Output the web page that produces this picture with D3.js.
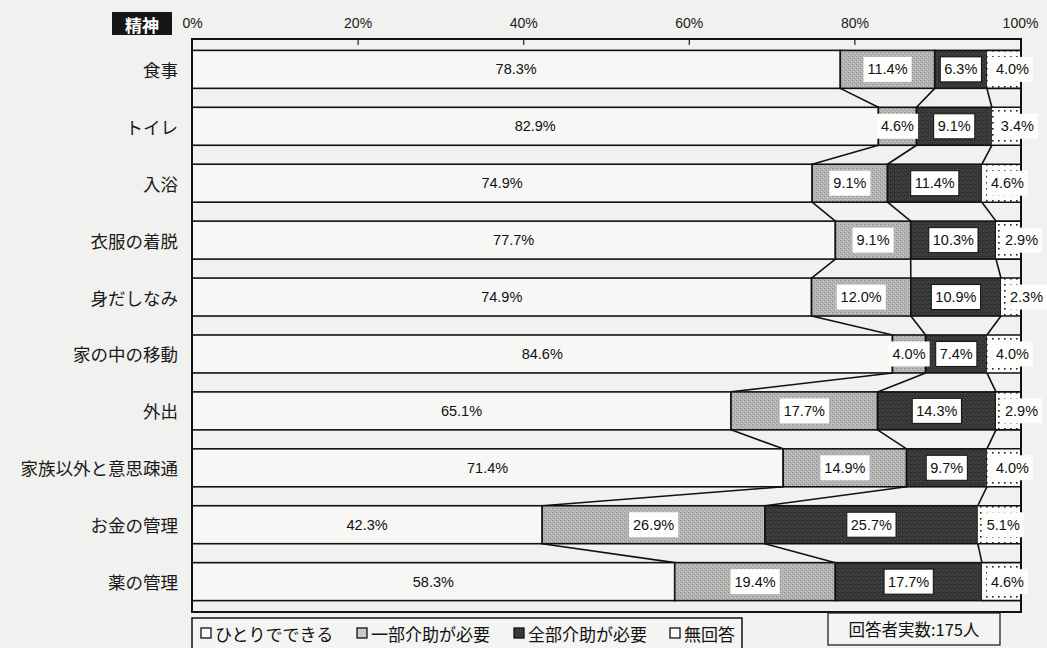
<!DOCTYPE html>
<html>
<head>
<meta charset="utf-8">
<script src="https://cdn.jsdelivr.net/npm/d3@7"></script>
<style>
  html, body { margin: 0; padding: 0; background: #f1f1ef; }
  svg { display: block; }
</style>
</head>
<body>
<svg id="chart" width="1047" height="648"></svg>
<script>
// Activities of daily living (mental disability respondents), share of answers in %
const categories = ["食事", "トイレ", "入浴", "衣服の着脱", "身だしなみ", "家の中の移動", "外出", "家族以外と意思疎通", "お金の管理", "薬の管理"];
const selfCare    = [78.3, 82.9, 74.9, 77.7, 74.9, 84.6, 65.1, 71.4, 42.3, 58.3];
const partialHelp = [11.4, 4.6, 9.1, 9.1, 12.0, 4.0, 17.7, 14.9, 26.9, 19.4];
const fullHelp    = [6.3, 9.1, 11.4, 10.3, 10.9, 7.4, 14.3, 9.7, 25.7, 17.7];
const noAnswer    = [4.0, 3.4, 4.6, 2.9, 2.3, 4.0, 2.9, 4.0, 5.1, 4.6];
const seriesKeys  = ["selfCare", "partialHelp", "fullHelp", "noAnswer"];
const seriesNames = ["ひとりでできる", "一部介助が必要", "全部介助が必要", "無回答"];
const tickValues  = [0, 20, 40, 60, 80, 100];
const tickLabels  = ["0%", "20%", "40%", "60%", "80%", "100%"];
const panelTitle  = "精神";
const respondents = "回答者実数:175人";

const rows = categories.map((c, i) => ({
  category: c,
  selfCare: selfCare[i],
  partialHelp: partialHelp[i],
  fullHelp: fullHelp[i],
  noAnswer: noAnswer[i]
}));

const svg = d3.select("#chart");
const JP = "'Noto Sans CJK JP', 'Noto Sans', sans-serif";
const NUM = "'Liberation Sans Narrow', 'Liberation Sans', Arial, sans-serif";

const plot = { left: 192, right: 1020, top: 39, bottom: 612 };

const x = d3.scaleLinear().domain([0, 1]).range([plot.left, plot.right]);
const xPct = d3.scaleLinear().domain([0, 100]).range([plot.left, plot.right]);
const y = d3.scaleBand().domain(categories).range([plot.top, plot.bottom])
  .paddingInner(0.333).paddingOuter(0.2);

const stacked = d3.stack().keys(seriesKeys).offset(d3.stackOffsetExpand)(rows);

// ---- patterns for the segment fills
const defs = svg.append("defs");
const gray = defs.append("pattern").attr("id", "grayFill")
  .attr("width", 4).attr("height", 4).attr("patternUnits", "userSpaceOnUse");
gray.append("rect").attr("width", 4).attr("height", 4).attr("fill", "#b3b3b1");
gray.append("rect").attr("x", 0).attr("y", 0).attr("width", 1).attr("height", 1).attr("fill", "#8e8e8c");
gray.append("rect").attr("x", 2).attr("y", 2).attr("width", 1).attr("height", 1).attr("fill", "#999997");
gray.append("rect").attr("x", 3).attr("y", 1).attr("width", 1).attr("height", 1).attr("fill", "#cfcfcd");
gray.append("rect").attr("x", 1).attr("y", 3).attr("width", 1).attr("height", 1).attr("fill", "#c6c6c4");

const dark = defs.append("pattern").attr("id", "darkFill")
  .attr("width", 4).attr("height", 4).attr("patternUnits", "userSpaceOnUse");
dark.append("rect").attr("width", 4).attr("height", 4).attr("fill", "#363636");
dark.append("rect").attr("x", 1).attr("y", 1).attr("width", 1).attr("height", 1).attr("fill", "#5a5a5a");
dark.append("rect").attr("x", 3).attr("y", 3).attr("width", 1).attr("height", 1).attr("fill", "#4a4a4a");
dark.append("rect").attr("x", 2).attr("y", 0).attr("width", 1).attr("height", 1).attr("fill", "#222");

const dots = defs.append("pattern").attr("id", "dotFill")
  .attr("width", 6).attr("height", 6).attr("patternUnits", "userSpaceOnUse");
dots.append("rect").attr("width", 6).attr("height", 6).attr("fill", "#fbfbf9");
dots.append("rect").attr("x", 2).attr("y", 2).attr("width", 1.6).attr("height", 1.6).attr("fill", "#222");

const fills = ["#f7f7f5", "url(#grayFill)", "url(#darkFill)", "url(#dotFill)"];

// ---- panel title
svg.append("rect").attr("x", 112).attr("y", 12).attr("width", 60).attr("height", 23).attr("fill", "#161616");
svg.append("text").attr("x", 142).attr("y", 24).attr("text-anchor", "middle")
  .attr("dominant-baseline", "central").attr("fill", "#fff")
  .attr("font-family", JP).attr("font-weight", "bold").attr("font-size", 17)
  .text(panelTitle);

// ---- percentage axis labels on top
const axisTop = svg.append("g").attr("transform", `translate(0,${plot.top - 11})`)
  .call(d3.axisTop(xPct).tickValues(tickValues).tickFormat((d, i) => tickLabels[i]).tickSize(0).tickPadding(0));
axisTop.select(".domain").remove();
axisTop.selectAll("text").attr("font-family", NUM).attr("font-size", 14).attr("fill", "#1a1a1a");

// ---- connectors between adjacent bars at each cumulative boundary
const conn = svg.append("g").attr("stroke", "#111").attr("stroke-width", 1.6).attr("fill", "none");
for (let k = 0; k < 3; k++) {
  const s = stacked[k];
  for (let i = 0; i < categories.length - 1; i++) {
    conn.append("line")
      .attr("x1", x(s[i][1])).attr("y1", y(categories[i]) + y.bandwidth())
      .attr("x2", x(s[i + 1][1])).attr("y2", y(categories[i + 1]));
  }
}

// ---- stacked bars
const bars = svg.append("g");
stacked.forEach((s, k) => {
  bars.selectAll(null).data(s).enter().append("rect")
    .attr("x", d => x(d[0]))
    .attr("y", d => y(d.data.category))
    .attr("width", d => x(d[1]) - x(d[0]))
    .attr("height", y.bandwidth())
    .attr("fill", fills[k])
    .attr("stroke", "#111")
    .attr("stroke-width", k === 3 ? 0 : 1.6);
});
// outline of the no-answer segments (top & bottom edges only, dotted look comes from fill)
bars.selectAll(null).data(stacked[3]).enter().append("path")
  .attr("d", d => {
    const x0 = x(d[0]), x1 = x(d[1]), y0 = y(d.data.category), y1 = y0 + y.bandwidth();
    return `M${x0},${y0}H${x1}M${x0},${y1}H${x1}`;
  })
  .attr("stroke", "#111").attr("stroke-width", 1.6).attr("fill", "none");

// ---- frame
svg.append("rect").attr("x", plot.left).attr("y", plot.top)
  .attr("width", plot.right - plot.left + 1).attr("height", plot.bottom - plot.top)
  .attr("fill", "none").attr("stroke", "#111").attr("stroke-width", 2);

// small inner tick marks along the top edge
const tickMarks = svg.append("g").attr("transform", `translate(0,${plot.top})`)
  .call(d3.axisBottom(xPct).tickValues(tickValues.slice(1, -1)).tickSize(6).tickFormat(""));
tickMarks.select(".domain").remove();
tickMarks.selectAll("line").attr("stroke", "#222").attr("stroke-width", 1.2);

// ---- category labels
svg.append("g").selectAll("text").data(categories).enter().append("text")
  .attr("x", 178).attr("y", d => y(d) + y.bandwidth() / 2)
  .attr("text-anchor", "end").attr("dominant-baseline", "central")
  .attr("font-family", JP).attr("font-size", 17.5).attr("fill", "#1a1a1a")
  .text(d => d);

// ---- value labels
const valueArrays = [selfCare, partialHelp, fullHelp, noAnswer];
const labels = svg.append("g").attr("font-family", NUM).attr("font-size", 14.5).attr("fill", "#111");

stacked.forEach((s, k) => {
  s.forEach((d, i) => {
    const txt = valueArrays[k][i].toFixed(1) + "%";
    const cy = y(d.data.category) + y.bandwidth() / 2;
    const x0 = x(d[0]), x1 = x(d[1]);
    if (k === 0) {
      labels.append("text").attr("x", (x0 + x1) / 2).attr("y", cy)
        .attr("text-anchor", "middle").attr("dominant-baseline", "central").text(txt);
      return;
    }
    const t = labels.append("text").attr("y", cy).attr("dominant-baseline", "central").text(txt);
    if (k === 3) {
      t.attr("x", x0 + 9).attr("text-anchor", "start");
    } else {
      t.attr("x", (x0 + x1) / 2).attr("text-anchor", "middle");
    }
    const bb = t.node().getBBox();
    labels.insert("rect", () => t.node())
      .attr("x", bb.x - 4).attr("y", cy - 12.5)
      .attr("width", bb.width + 8).attr("height", 25)
      .attr("fill", "#fdfdfc")
      .attr("stroke", k === 2 ? "#111" : "none").attr("stroke-width", 1);
  });
});

// ---- legend
svg.append("rect").attr("x", 192).attr("y", 618).attr("width", 550).attr("height", 40)
  .attr("fill", "#f4f4f2").attr("stroke", "#111").attr("stroke-width", 1.5);
const legendX = [201, 357, 514, 670];
const legendSwatch = ["#fbfbf9", "#c9c9c7", "#3a3a3a", "#fbfbf9"];
const lg = svg.append("g");
seriesNames.forEach((name, i) => {
  lg.append("rect").attr("x", legendX[i]).attr("y", 628).attr("width", 10).attr("height", 10)
    .attr("fill", legendSwatch[i]).attr("stroke", "#111").attr("stroke-width", 1.3);
  lg.append("text").attr("x", legendX[i] + 14).attr("y", 633)
    .attr("dominant-baseline", "central")
    .attr("font-family", JP).attr("font-size", 17).attr("fill", "#111")
    .text(name);
});

svg.append("rect").attr("x", 828).attr("y", 613).attr("width", 172).attr("height", 32)
  .attr("fill", "#f4f4f2").attr("stroke", "#222").attr("stroke-width", 1.3);
svg.append("text").attr("x", 914).attr("y", 629).attr("text-anchor", "middle")
  .attr("dominant-baseline", "central")
  .attr("font-family", JP).attr("font-size", 16.5).attr("fill", "#111")
  .text(respondents);
</script>
</body>
</html>
